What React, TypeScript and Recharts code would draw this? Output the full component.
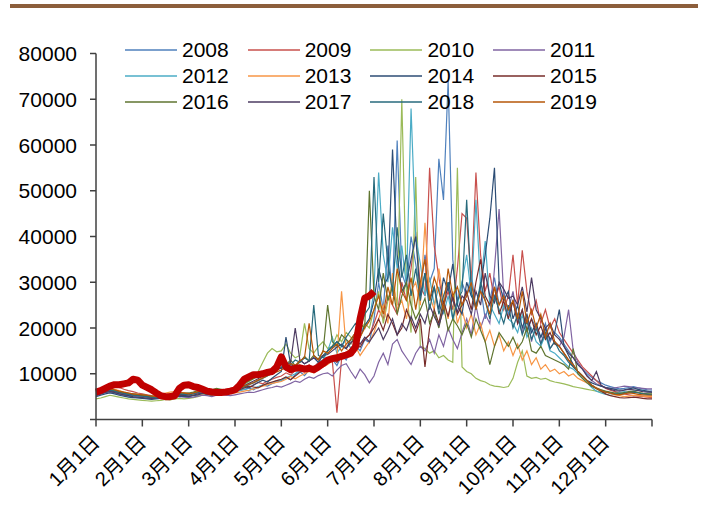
import React from 'react';
import { LineChart, Line, XAxis, YAxis, Legend } from 'recharts';

const monthNames = ['1月', '2月', '3月', '4月', '5月', '6月', '7月', '8月', '9月', '10月', '11月', '12月'];
const dayNames = ['1日', '4日', '7日', '10日', '13日', '16日', '19日', '22日', '25日', '28日'];
const lastDay = '12月31日';
const categories: string[] = [];
monthNames.forEach((m) => dayNames.forEach((d) => categories.push(m + d)));
categories.push(lastDay);

const yTicks = [0, 10000, 20000, 30000, 40000, 50000, 60000, 70000, 80000];

const s2008 = [
  5200, 5500, 5900, 6100, 5800, 5500, 5300, 5100, 4900, 4800,
  4700, 4600, 4500, 4700, 4900, 5100, 5000, 5200, 5300, 5400,
  5500, 5700, 5400, 5600, 5900, 6100, 5800, 5600, 5900, 6200,
  6000, 6300, 6600, 6900, 6500, 7100, 7500, 7300, 7800, 8200,
  8500, 9200, 8700, 9800, 10500, 9600, 10800, 11500, 10900, 12000,
  12500, 13200, 11800, 14000, 13000, 15500, 16200, 15000, 17500, 16800,
  22000, 30000, 24000, 38000, 27000, 61000, 32000, 29000, 40000, 34000,
  28000, 36000, 30000, 33000, 57000, 48000, 74000, 35000, 26000, 30000,
  27000, 32000, 24000, 29000, 22000, 26000, 31000, 25000, 28000, 23000,
  26000, 21000, 24000, 19000, 22000, 20000, 18000, 21000, 17000, 19000,
  18000, 16500, 15000, 13500, 12000, 11000, 10000, 9200, 8500, 8000,
  7500, 7200, 6900, 6700, 6800, 7000, 7200, 6900, 6700, 6500,
  6400,
];
const s2009 = [
  6000, 6500, 7200, 7800, 7400, 7000, 6600, 6300, 6100, 5800,
  5600, 5400, 5200, 5000, 5100, 5300, 5500, 5700, 5600, 5400,
  5300, 5500, 5800, 6100, 5900, 5700, 6000, 6300, 6500, 6400,
  6600, 6900, 7300, 7000, 7600, 8100, 7800, 8400, 8800, 9200,
  9500, 10200, 9700, 10800, 11500, 10600, 12000, 11200, 12500, 13000,
  13500, 12800, 1500, 13200, 14500, 15500, 14800, 16500, 17500, 18500,
  21000, 24000, 22000, 27000, 25000, 23000, 30000, 26000, 33000, 41000,
  29000, 27000, 55000, 38000, 31000, 25000, 28000, 24000, 33000, 45000,
  44000, 30000, 54000, 36000, 28000, 32000, 26000, 29000, 24000, 27000,
  36000, 25000, 37000, 28000, 23000, 26000, 21000, 24000, 20000, 22000,
  19000, 17500, 16000, 14500, 13000, 11500, 10500, 9500, 8500, 7500,
  6800, 6400, 6100, 5800, 5600, 5400, 5200, 5100, 5000, 4900,
  4800,
];
const s2010 = [
  4500, 4700, 5000, 5300, 5100, 4900, 4700, 4500, 4400, 4300,
  4200, 4100, 4000, 4100, 4200, 4400, 4300, 4500, 4600, 4500,
  4600, 4800, 5000, 5300, 5500, 5200, 5600, 5900, 6200, 6500,
  6800, 7200, 7700, 8300, 9000, 10500, 12500, 14500, 15500, 14800,
  15000, 16500, 14500, 13500, 14000, 21000, 15500, 14500, 16000, 17000,
  15500, 16000, 18500, 17000, 19000, 18000, 16500, 19500, 21000, 20000,
  24000, 28000, 21000, 26000, 30000, 25000, 70000, 28000, 19000, 53000,
  16000, 15500, 14500, 15000, 13500, 14000, 13000, 12500, 55000, 11500,
  10500, 10000, 9000, 8500, 8200, 7600, 7300, 7200, 7000, 7200,
  9000, 12500, 15000, 9500, 9000, 9200, 8800, 9000, 8500, 8200,
  8000, 7800, 7500, 7200, 7000, 6800, 6600, 6400, 6200, 6000,
  6000, 5800, 5700, 5600, 5800, 6000, 6100, 5900, 5700, 5600,
  5500,
];
const s2011 = [
  5500, 5700, 6000, 6200, 5900, 5700, 5500, 5300, 5200, 5100,
  5000, 4900, 4700, 4600, 4800, 5000, 5200, 5100, 5000, 4900,
  4800, 4900, 5100, 5300, 5200, 5000, 5300, 5500, 5300, 5200,
  5400, 5600, 5800, 6000, 5900, 6200, 6500, 6800, 7000, 7300,
  7100, 7500, 7900, 8400, 8100, 8800, 9300, 9000, 9600, 10000,
  10200, 9500, 10800, 11800, 12200, 10500, 9000, 11000, 9800, 8000,
  9500, 12500, 14500, 12000, 16500, 17500, 15000, 13500, 12000, 14500,
  16000, 15000, 17500, 14500, 18500, 16000, 20000, 17500, 15500, 19000,
  22000, 18500, 25000, 20000, 23000, 21000, 33000, 46000, 27000, 24000,
  28000, 22000, 19000, 23000, 17000, 21000, 16500, 20000, 15500, 17000,
  16000, 18000, 24000, 15000, 12500, 11000, 9500, 8500, 7800, 7300,
  7000, 6800, 6900, 7100, 7300, 7200, 7000, 6900, 6800, 6700,
  6700,
];
const s2012 = [
  5800, 6100, 6400, 6600, 6300, 6000, 5700, 5500, 5300, 5200,
  5100, 5000, 4900, 4800, 5000, 5200, 5400, 5600, 5500, 5600,
  5500, 5700, 6000, 6300, 6100, 5900, 5700, 5900, 6100, 6000,
  6100, 6400, 6600, 6300, 6800, 7200, 7500, 7800, 8100, 8500,
  8600, 9100, 9500, 10000, 10800, 11500, 10500, 11200, 12500, 13000,
  15000, 18000, 14500, 16000, 17500, 15500, 16800, 19000, 20500, 22000,
  28000, 54000, 36000, 30000, 42000, 33000, 38000, 29000, 68000, 40000,
  34000, 27000, 31000, 25000, 29000, 23000, 27000, 22000, 25000, 30000,
  36000, 27000, 48000, 29000, 39000, 25000, 23000, 21000, 25000, 22000,
  21000, 19000, 23000, 18000, 20000, 17000, 16000, 18500, 15000, 14500,
  13500, 12500, 11500, 11000, 10000, 9000, 8000, 7000, 6200, 5800,
  5500, 5300, 5600, 5900, 6100, 5900, 6200, 6400, 6300, 6100,
  6000,
];
const s2013 = [
  6000, 6300, 6700, 6900, 6600, 6300, 6000, 5800, 5600, 5500,
  5400, 5200, 5100, 5200, 5500, 5800, 6000, 6100, 5900, 5800,
  5700, 5500, 5400, 5600, 5900, 6100, 5800, 5600, 5500, 5700,
  5800, 6000, 6200, 6400, 6700, 7000, 7300, 7600, 7900, 8100,
  8300, 8800, 9400, 8900, 9500, 10000, 10500, 10200, 11000, 11500,
  12000, 12800, 13500, 28000, 15500, 14500, 16000, 14000, 15500, 17000,
  19000, 22000, 25000, 21000, 32000, 24000, 26000, 22000, 28000, 30000,
  25000, 43000, 27000, 24000, 33000, 26000, 22000, 28000, 21000, 24000,
  20000, 23000, 18500, 21000, 17000, 19500, 16000, 18500, 15000, 17000,
  14000, 16500, 13000, 15000, 12000, 13500, 11000, 12000, 10500, 11000,
  10000, 10500, 9500, 10000, 9000, 8500, 8000, 7500, 7000, 6500,
  6000, 5700, 5400, 5200, 5000, 5100, 5300, 5200, 5100, 5000,
  5000,
];
const s2014 = [
  5000, 5300, 5600, 5800, 5600, 5300, 5100, 4900, 4800, 4700,
  4600, 4500, 4400, 4500, 4600, 4800, 5000, 5100, 5000, 5100,
  5000, 5200, 5400, 5700, 5500, 5400, 5700, 6000, 6200, 6300,
  6500, 6900, 7300, 6900, 7500, 8100, 8600, 8200, 9000, 9800,
  10500, 18000, 12000, 11500, 13000, 12200, 12800, 13500, 12500, 14000,
  15000, 15800, 17000, 16000, 15500, 17500, 19000, 18000, 20500, 22000,
  26000, 33000, 29000, 31000, 59000, 36000, 28000, 30000, 35000, 40000,
  27000, 32000, 26000, 29000, 24000, 31000, 28000, 34000, 25000, 23000,
  30000, 27000, 25000, 29000, 36000, 44000, 55000, 30000, 26000, 28000,
  22000, 25000, 20000, 23000, 19000, 21000, 18000, 20000, 17500, 19000,
  24000, 16000, 14000, 12000, 10500, 9500, 8500, 8000, 7600, 7300,
  7000, 6800, 6600, 6400, 6500, 6700, 6900, 6600, 6400, 6200,
  6000,
];
const s2015 = [
  5500, 5800, 6100, 6300, 6100, 5900, 5700, 5500, 5400, 5300,
  5200, 5000, 4900, 5000, 5100, 5300, 5500, 5600, 5500, 5400,
  5600, 5800, 6000, 6200, 5900, 6100, 6400, 6200, 6000, 6100,
  6200, 6500, 6900, 7300, 7100, 6900, 7500, 7900, 8200, 8500,
  8800, 9300, 8700, 9500, 10300, 11000, 11800, 10800, 11500, 12000,
  12800, 13500, 12500, 13800, 14500, 15500, 16500, 15800, 17500, 18500,
  20000, 22000, 19500, 23000, 21000, 18500, 20000, 24000, 21500, 19000,
  22000, 11500, 20000, 24000, 21000, 26000, 22500, 27000, 23000, 25000,
  28000, 24000, 30000, 35000, 27000, 25000, 29000, 23000, 26000, 22000,
  26000, 21000, 24000, 19500, 22000, 18500, 20500, 17500, 19000, 16500,
  16000, 14500, 13000, 11500, 10500, 9500, 8500, 7500, 6800, 6200,
  5600, 5200, 5000, 4800, 4700, 4800, 4900, 4800, 4600, 4500,
  4500,
];
const s2016 = [
  5700, 6000, 6400, 6700, 6400, 6100, 5900, 5700, 5600, 5500,
  5400, 5200, 5100, 5000, 5100, 5300, 5500, 5700, 5800, 5700,
  5800, 6000, 6300, 6000, 6200, 6500, 6800, 6600, 6400, 6600,
  7000, 7400, 7900, 8400, 8900, 9500, 10000, 9700, 10500, 11000,
  11200, 12000, 13000, 11800, 12500, 13800, 12800, 14000, 13200, 14800,
  25000, 17000, 16000, 18500, 17500, 16500, 19000, 21000, 20000, 50000,
  27000, 24000, 32000, 26000, 29000, 23000, 27000, 30000, 25000, 22000,
  24000, 26500, 21000, 23500, 20000, 25000, 19500, 22000, 20500, 18500,
  21000, 18000, 22000, 19500, 17000, 12000, 16000, 19000, 17500, 16000,
  18000, 15500, 17000, 20000, 15000, 14500, 16000, 14000, 13500, 13000,
  12500, 12000, 11000, 15500, 10000, 9000, 8000, 7200, 6800, 6500,
  6200, 6000, 5800, 5700, 5900, 6100, 6200, 5900, 5700, 5600,
  5600,
];
const s2017 = [
  5300, 5600, 5900, 6100, 5900, 5600, 5400, 5200, 5000, 4900,
  4800, 4700, 4600, 4700, 4800, 5000, 5200, 5300, 5200, 5300,
  5100, 5300, 5600, 5800, 5700, 5600, 5900, 6100, 6300, 6400,
  6600, 7000, 7400, 7900, 8400, 8900, 9500, 10000, 10500, 11000,
  11200, 11800, 12500, 20000, 13000, 12200, 12800, 13500, 13000, 14000,
  14200, 15000, 15800, 16500, 15500, 16800, 17500, 16500, 18000, 17000,
  18500, 20000, 17500, 19500, 22000, 18500, 21000, 19500, 22500, 20000,
  23000, 21000, 25000, 22500, 20500, 24000, 30000, 26000, 23500, 27000,
  26000, 23000, 28000, 25000, 32000, 27000, 25500, 30000, 28500, 26500,
  27000, 25000, 29000, 23500, 31000, 24000, 22000, 20000, 21000, 18500,
  17500, 16000, 14500, 13500, 12000, 11000, 9500, 8500, 10500, 7500,
  6900, 6600, 6300, 6200, 6400, 6600, 6500, 6300, 6100, 6000,
  6000,
];
const s2018 = [
  5600, 5900, 6200, 6400, 6200, 5900, 5700, 5500, 5300, 5200,
  5100, 5000, 4900, 4800, 4900, 5100, 5300, 5500, 5600, 5500,
  5400, 5600, 5900, 6200, 6000, 6200, 6400, 6200, 6000, 6200,
  6300, 6700, 7100, 7600, 8000, 8500, 9000, 9500, 10200, 11000,
  11500, 10800, 12000, 13000, 12500, 13500, 12800, 25000, 14000, 13500,
  15000, 16000, 17000, 16000, 18000, 19500, 21000, 20000, 23000, 24500,
  53000, 30000, 45000, 34000, 28000, 42000, 31000, 36000, 27000, 33000,
  26000, 32000, 24000, 29000, 23000, 27000, 30000, 22000, 26000, 28000,
  48000, 28000, 24000, 30000, 26000, 22000, 27000, 24000, 21000, 25000,
  20000, 23000, 18500, 21500, 17500, 20000, 16500, 19000, 15500, 17000,
  15000, 14000, 12500, 11500, 10500, 9500, 8500, 7500, 6800, 6300,
  6000, 5800, 5600, 5500, 5700, 5900, 6000, 5800, 5600, 5500,
  5400,
];
const s2019 = [
  5900, 6200, 6500, 6700, 6500, 6200, 6000, 5800, 5600, 5500,
  5400, 5300, 5100, 5000, 5200, 5400, 5600, 5800, 5900, 5800,
  5600, 5800, 6100, 6400, 6200, 6400, 6600, 6400, 6200, 6300,
  6500, 6900, 7300, 7700, 8100, 8600, 9100, 9600, 10000, 10400,
  10800, 11500, 12200, 11800, 12800, 13500, 21000, 14000, 13000, 15000,
  14500, 15500, 16500, 15000, 16500, 17500, 19000, 18000, 20000, 21500,
  24000, 27000, 23000, 29000, 25000, 33000, 28000, 26000, 31000, 24000,
  30000, 35000, 26000, 31000, 28000, 24000, 33000, 27000, 29000, 25000,
  27000, 30000, 24000, 28000, 26000, 23000, 29000, 25000, 27000, 24000,
  26000, 22000, 28000, 21000, 24000, 20000, 23000, 18000, 21000, 17000,
  16000, 14500, 13000, 12000, 10500, 9500, 8500, 7500, 6800, 6300,
  6000, 5800, 5500, 5400, 5600, 5800, 5700, 5500, 5400, 5300,
  5300,
];
const s2020 = [
  6000, 6300, 6800, 7300, 7600, 7600, 7800, 8000, 8800, 8600,
  7500, 7000, 6500, 5800, 5200, 5000, 5000, 5200, 6800, 7500,
  7600, 7200, 7000, 6600, 6200, 6000, 5900, 5900, 6000, 6200,
  6500, 7500, 8800, 9300, 9800, 9800, 10000, 10300, 10500, 11500,
  13700, 11500, 10900, 11200, 11300, 11000, 11200, 10900, 11500, 12200,
  13000, 13300, 13500, 13800, 14100, 14500, 15900, 22000, 26500, 27000,
  28000,
];

const seriesNames = ['2008', '2009', '2010', '2011', '2012', '2013', '2014', '2015', '2016', '2017', '2018', '2019'];
const seriesValues = [s2008, s2009, s2010, s2011, s2012, s2013, s2014, s2015, s2016, s2017, s2018, s2019];
const seriesColors = ['#4F81BD', '#C8504D', '#9BBB59', '#8064A2', '#4BACC6', '#F79646', '#2C4D75', '#772C2A', '#5F7530', '#4D3B62', '#276A7C', '#B65708'];
const currentName = '2020';
const currentColor = '#C00000';

const data = categories.map((c, i) => {
  const row: Record<string, string | number | undefined> = { date: c };
  seriesNames.forEach((n, k) => {
    row['y' + n] = seriesValues[k][i];
  });
  row['y' + currentName] = s2020[i];
  return row;
});

const FONT = '"Liberation Sans", Arial, "Noto Sans CJK SC", sans-serif';

const XTick = (props: any) => {
  const { x, y, payload } = props;
  if (payload.value === lastDay) return null;
  return (
    <text
      x={x + 5}
      y={y + 15}
      transform={`rotate(-45, ${x + 5}, ${y + 15})`}
      textAnchor="end"
      fontSize={20}
      fontFamily={FONT}
      fill="#000"
    >
      {payload.value}
    </text>
  );
};

const YTick = (props: any) => {
  const { x, y, payload } = props;
  if (payload.value === 0) return null;
  return (
    <text x={x} y={y} dy="0.36em" textAnchor="end" fontSize={21} fontFamily={FONT} fill="#000">
      {payload.value}
    </text>
  );
};

const LegendContent = () => (
  <div style={{ position: 'relative', width: 500, height: 80, fontFamily: FONT }}>
    {seriesNames.map((n, k) => {
      const col = k % 4;
      const row = Math.floor(k / 4);
      return (
        <div
          key={n}
          style={{
            position: 'absolute',
            left: col * 122.7,
            top: row * 26,
            height: 26,
            display: 'flex',
            alignItems: 'center',
            whiteSpace: 'nowrap',
          }}
        >
          <svg width={52} height={26} style={{ display: 'block' }}>
            <line x1={0} x2={52} y1={13} y2={13} stroke={seriesColors[k]} strokeWidth={1.6} />
          </svg>
          <span style={{ fontSize: 21, marginLeft: 5, color: '#000', lineHeight: '26px' }}>{n}</span>
        </div>
      );
    })}
  </div>
);

export default function App() {
  return (
    <div style={{ position: 'absolute', left: 0, top: 0, width: 708, height: 530, background: '#fff' }}>
      <div style={{ position: 'absolute', left: 10, top: 4, width: 688, height: 4, background: '#8C5E3B' }} />
      <LineChart
        width={708}
        height={530}
        data={data}
        margin={{ top: 53.5, right: 56, bottom: 30.5, left: 0 }}
      >
        <XAxis
          dataKey="date"
          interval={9}
          tick={<XTick />}
          tickSize={7}
          height={80}
          axisLine={{ stroke: '#404040', strokeWidth: 1.5 }}
          tickLine={{ stroke: '#404040', strokeWidth: 1.5 }}
        />
        <YAxis
          domain={[0, 80000]}
          ticks={yTicks}
          width={96}
          tickSize={6}
          tickMargin={13}
          tick={<YTick />}
          axisLine={{ stroke: '#404040', strokeWidth: 1.5 }}
          tickLine={{ stroke: '#404040', strokeWidth: 1.5 }}
          allowDataOverflow
        />
        <Legend
          layout="vertical"
          verticalAlign="middle"
          align="center"
          content={<LegendContent />}
          wrapperStyle={{ position: 'absolute', top: 37, left: 125, width: 500, height: 80 }}
        />
        {seriesNames.map((n, k) => (
          <Line
            key={n}
            type="linear"
            dataKey={'y' + n}
            name={n}
            stroke={seriesColors[k]}
            strokeWidth={1.2}
            dot={false}
            activeDot={false}
            isAnimationActive={false}
          />
        ))}
        <Line
          type="linear"
          dataKey={'y' + currentName}
          name={currentName}
          stroke={currentColor}
          strokeWidth={7}
          strokeLinejoin="round"
          dot={false}
          activeDot={false}
          legendType="none"
          isAnimationActive={false}
        />
      </LineChart>
    </div>
  );
}
